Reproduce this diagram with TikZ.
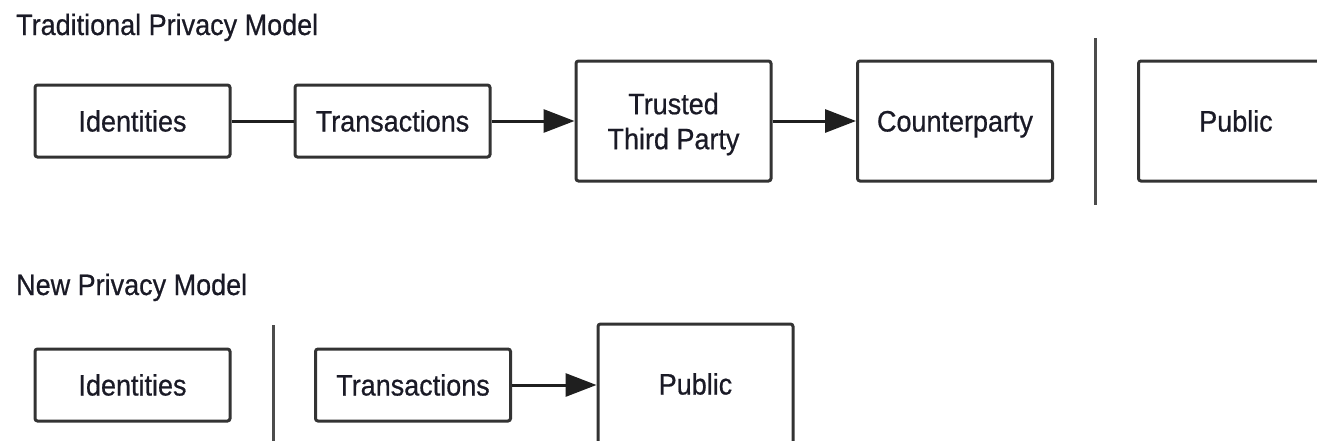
\documentclass[tikz,border=0pt]{standalone}
\usepackage{fontspec}
\setmainfont{Liberation Sans}
\newfontfamily\diagfont[FakeStretch=0.915,FakeBold=0.6]{Liberation Sans}
\usetikzlibrary{arrows.meta}
\definecolor{txt}{HTML}{1A1A26}
\definecolor{edge}{HTML}{333333}
\begin{document}
\begin{tikzpicture}[x=1pt,y=-1pt,
 box/.style={draw=edge, line width=3pt, rounded corners=2.5pt, fill=white, inner sep=0pt, text=txt, font=\diagfont\fontsize{29.5}{35}\selectfont, align=center, text height=24pt, text depth=3pt},
 smallbox/.style={box, minimum width=195pt, minimum height=72pt},
 bigbox/.style={box, minimum width=195pt, minimum height=120pt},
 twoline/.style={text height=, text depth=-6pt},
 conn/.style={draw=black!88, line width=3pt},
 arr/.style={conn, -{Triangle[length=31pt,width=23pt]}},
 sepline/.style={draw=black!70, line width=3pt},
 titletext/.style={anchor=base west, inner sep=0pt, text=txt, font=\diagfont\fontsize{29.5}{35}\selectfont}]
\useasboundingbox (0,0) rectangle (1317,440);
\clip (0,0) rectangle (1317,440);
\fill[white] (0,0) rectangle (1317,440);

% top row
\node[titletext] (t1) at (16,35) {Traditional Privacy Model};
\node[smallbox] (id1) at (132.5,121) {Identities};
\node[smallbox] (tr1) at (392.5,121) {Transactions};
\node[bigbox, twoline] (ttp) at (673.5,121) {Trusted\\Third Party};
\node[bigbox] (cp) at (955,121) {Counterparty};
\node[bigbox] (pub1) at (1236,121) {Public};
\coordinate (s1a) at (1095,38);
\coordinate (s1b) at (1095,205);
\draw[sepline] (s1a) -- (s1b);
\draw[conn] (id1) -- (tr1);
\draw[arr] (tr1) -- (ttp);
\draw[arr] (ttp) -- (cp);

% bottom row
\node[titletext] (t2) at (16,295) {New Privacy Model};
\node[smallbox] (id2) at (132.5,385) {Identities};
\coordinate (s2a) at (273,325);
\coordinate (s2b) at (273,445);
\draw[sepline] (s2a) -- (s2b);
\node[smallbox] (tr2) at (413,385) {Transactions};
\node[bigbox] (pub2) at (695.5,384) {Public};
\draw[arr] (tr2) -- (tr2 -| pub2.west);
\end{tikzpicture}
\end{document}
